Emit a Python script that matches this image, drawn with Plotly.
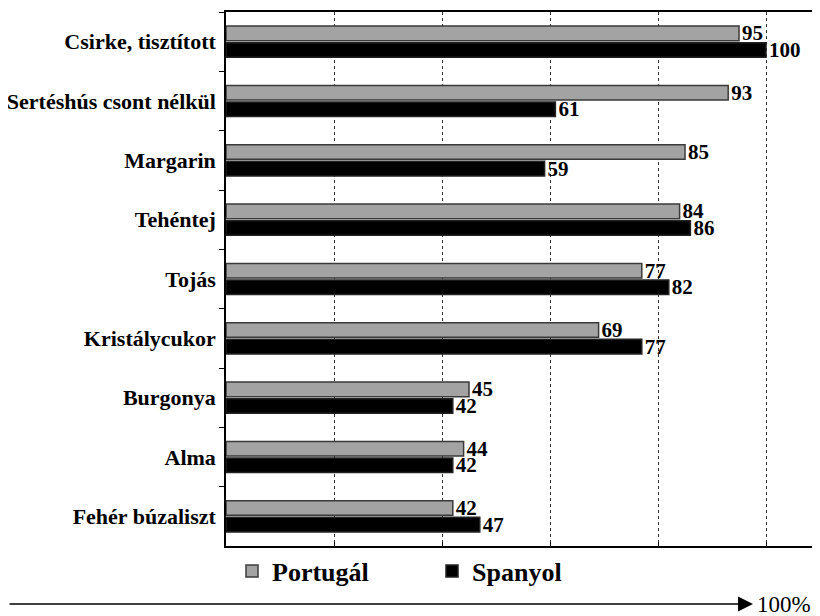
import plotly.graph_objects as go

categories = ["Csirke, tisztított", "Sertéshús csont nélkül", "Margarin", "Tehéntej",
              "Tojás", "Kristálycukor", "Burgonya", "Alma", "Fehér búzaliszt"]
portugal = [95, 93, 85, 84, 77, 69, 45, 44, 42]
spanyol = [100, 61, 59, 86, 82, 77, 42, 42, 47]
series_names = ["Portugál", "Spanyol"]
x_ticks = [0, 20, 40, 60, 80, 100]

FONT = "Liberation Serif, Times New Roman, Times, serif"
OFF = 8  # page body margin
W, H = 820 - OFF, 616 - OFF
L, R, T, B = 226 - OFF, 0, 12 - OFF, 70
pw, ph = W - L - R, H - T - B

def px(xpage):
    return (xpage - OFF - L) / pw

def py(ypage):
    return (H - B - (ypage - OFF)) / ph

fig = go.Figure()
fig.add_trace(go.Bar(
    y=categories, x=portugal, name=series_names[0], orientation="h",
    marker=dict(color="#a3a3a3", line=dict(color="#3a3a3a", width=1.5)),
    text=portugal, textposition="outside", constraintext="none", cliponaxis=False,
    textfont=dict(family=FONT, size=21, color="black", weight="bold"),
))
fig.add_trace(go.Bar(
    y=categories, x=spanyol, name=series_names[1], orientation="h",
    marker=dict(color="#000000", line=dict(color="#222222", width=1.5)),
    text=spanyol, textposition="outside", constraintext="none", cliponaxis=False,
    textfont=dict(family=FONT, size=21, color="black", weight="bold"),
))

fig.update_layout(
    width=W, height=H,
    margin=dict(l=L, r=R, t=T, b=B, pad=0),
    paper_bgcolor="white", plot_bgcolor="white",
    barmode="group", bargap=0.44, bargroupgap=0.12,
    font=dict(family=FONT, color="black"),
    showlegend=True,
    legend=dict(orientation="h", x=px(232), xanchor="left", y=py(571), yanchor="middle",
                font=dict(family=FONT, size=26, color="black", weight="bold"),
                entrywidth=155, entrywidthmode="pixels", traceorder="normal",
                bgcolor="rgba(0,0,0,0)"),
    xaxis=dict(range=[0, 110], tickvals=x_ticks[1:], showticklabels=False,
               showgrid=True, gridcolor="#333333", griddash="dot", gridwidth=1,
               zeroline=False, showline=True, linecolor="black", linewidth=2, mirror=True,
               ticks="inside", ticklen=4, tickcolor="black", fixedrange=True),
    yaxis=dict(autorange="reversed", showline=True, linecolor="black", linewidth=1.5,
               ticks="outside", tickson="boundaries", ticklen=5, tickcolor="black",
               tickfont=dict(family=FONT, size=22, color="black", weight="bold"),
               ticklabelstandoff=4, showgrid=False, fixedrange=True),
)

fig.add_annotation(x=px(753), y=py(604), xref="paper", yref="paper", text="",
                   showarrow=True, ax=-760, ay=0, axref="pixel", ayref="pixel",
                   arrowhead=2, arrowsize=2.3, arrowwidth=1.3, arrowcolor="black", standoff=0)
fig.add_annotation(x=px(755), y=py(604), xref="paper", yref="paper", text="100%",
                   showarrow=False, xanchor="left", yanchor="middle",
                   font=dict(family=FONT, size=23, color="black"))

fig.write_html("out.html")
